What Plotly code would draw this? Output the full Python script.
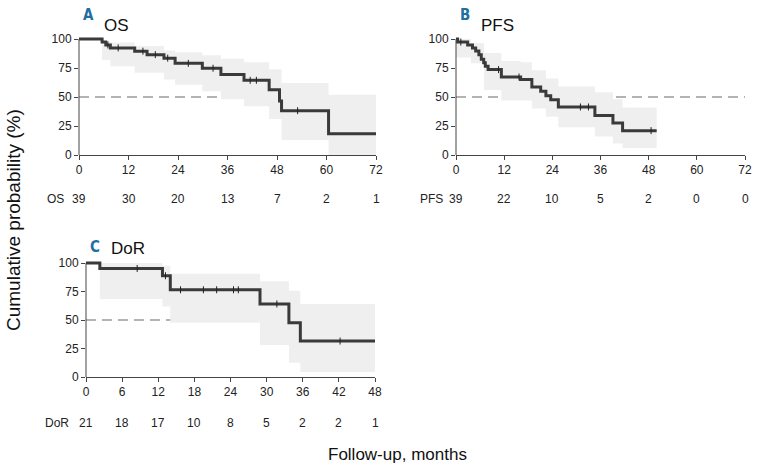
import plotly.graph_objects as go

# ---------------- data ----------------
# Panel A: OS
os_t = [0, 5.6, 6.5, 7.6, 13.5, 16.5, 20.6, 23.3, 29.9, 34.4, 40.0, 46.1, 48.6, 49.1, 60.5, 72]
os_s = [100, 97.4, 94.9, 92.3, 89.5, 86.5, 83.5, 79.0, 74.8, 69.3, 64.4, 56.3, 46.5, 38.2, 18.4, 18.4]
os_band_t = [0, 5.6, 7.6, 13.5, 20.6, 23.3, 29.9, 34.4, 40.0, 46.1, 49.1, 60.5, 72]
os_upper = [100, 98, 97, 94, 90, 88.5, 86, 83, 80, 74, 62, 52, 52]
os_lower = [100, 82, 76.5, 71, 65, 60.5, 55, 48, 42, 31, 13, 0, 0]
os_censor = [7.0, 9.5, 15.5, 18.5, 21.5, 26.5, 32.5, 41.5, 43.0, 53.0]

# Panel B: PFS
pfs_t = [0, 0.4, 2.9, 4.1, 4.9, 5.7, 6.3, 6.9, 7.3, 8.0, 11.3, 16.1, 18.9, 21.1, 22.4, 23.6, 25.5, 34.6, 39.1, 41.5, 50.0]
pfs_s = [100, 97.4, 94.9, 92.3, 89.7, 86.5, 82.5, 79.5, 76.5, 73.6, 67.2, 65.0, 58.6, 55.0, 51.0, 47.7, 41.4, 34.0, 27.6, 21.0, 21.0]
pfs_band_t = [0, 3.7, 7.0, 11.3, 16.1, 18.9, 22.4, 25.5, 34.6, 39.1, 41.5, 50.0]
pfs_upper = [100, 96.5, 88, 81, 80, 73, 66, 59, 54, 48, 41, 41]
pfs_lower = [84, 79, 56, 47, 47, 40, 33, 24, 16, 10, 6, 6]
pfs_censor = [1.2, 10.6, 15.7, 31.0, 33.0, 48.6]

# Panel C: DoR
dor_t = [0, 2.3, 12.7, 14.0, 28.9, 33.7, 35.6, 48.3]
dor_s = [100, 95.2, 88.8, 76.5, 64.1, 47.6, 31.5, 31.5]
dor_band_t = [0, 2.3, 12.7, 14.0, 28.9, 33.7, 35.6, 48.3]
dor_upper = [100, 100, 97.6, 90.6, 84, 75.6, 64, 64]
dor_lower = [100, 68.5, 61.8, 47.6, 28, 12.4, 4.4, 4.4]
dor_censor = [8.5, 13.2, 15.7, 19.5, 21.7, 24.5, 25.3, 31.7, 42.2]

# ticks and numbers at risk
ticks_ab = [0, 12, 24, 36, 48, 60, 72]
ticks_c = [0, 6, 12, 18, 24, 30, 36, 42, 48]
y_ticks = [0, 25, 50, 75, 100]
os_risk = [39, 30, 20, 13, 7, 2, 1]
pfs_risk = [39, 22, 10, 5, 2, 0, 0]
dor_risk = [21, 18, 17, 10, 8, 5, 2, 2, 1]

# ---------------- layout helpers ----------------
W, H = 763, 469
def fx(x):
    return x / W
def fy(y):
    return 1 - y / H

def step_at(ts, ss, t):
    v = ss[0]
    for ti, si in zip(ts, ss):
        if ti <= t:
            v = si
    return v

CURVE = "#3a3a3a"
BAND = "#efefef"
DASH = "#9a9a9a"
AXC = "#444444"
LETTER = "#1f6fa3"
YTOP = 103  # a little headroom so the curve at 100 % is not clipped

fig = go.Figure()

panels = [
    ("x", "y", os_t, os_s, os_band_t, os_upper, os_lower, os_censor, 72),
    ("x2", "y2", pfs_t, pfs_s, pfs_band_t, pfs_upper, pfs_lower, pfs_censor, 72),
    ("x3", "y3", dor_t, dor_s, dor_band_t, dor_upper, dor_lower, dor_censor, 48),
]

shapes = []
for xa, ya, t, s, bt, up, lo, cen, xmax in panels:
    fig.add_trace(go.Scatter(x=[0, xmax], y=[50, 50], mode="lines", xaxis=xa, yaxis=ya,
                             line=dict(color=DASH, width=1.5, dash="10px,6px"),
                             hoverinfo="skip", showlegend=False))
    fig.add_trace(go.Scatter(x=bt, y=lo, mode="lines", xaxis=xa, yaxis=ya,
                             line=dict(width=0, shape="hv", color=BAND),
                             hoverinfo="skip", showlegend=False))
    fig.add_trace(go.Scatter(x=bt, y=up, mode="lines", xaxis=xa, yaxis=ya, fill="tonexty",
                             fillcolor=BAND, line=dict(width=0, shape="hv", color=BAND),
                             hoverinfo="skip", showlegend=False))
    fig.add_trace(go.Scatter(x=t, y=s, mode="lines", xaxis=xa, yaxis=ya,
                             line=dict(color=CURVE, width=3, shape="hv"),
                             showlegend=False))
    fig.add_trace(go.Scatter(x=cen, y=[step_at(t, s, c) for c in cen], mode="markers",
                             xaxis=xa, yaxis=ya,
                             marker=dict(symbol="line-ns", size=5, line=dict(color="#222", width=1)),
                             showlegend=False, cliponaxis=False))
    shapes.append(dict(type="line", xref=xa + " domain", yref=ya, x0=0, x1=0, y0=0, y1=100,
                       line=dict(color=AXC, width=1), layer="above"))

axis_common = dict(ticks="outside", ticklen=4, automargin=False,
                   tickcolor=AXC, tickwidth=1, showgrid=False, zeroline=False,
                   tickfont=dict(family="Liberation Sans, Arial, sans-serif", size=12, color="#222"))

def ydom(y0px, y100px):
    top = y0px - (y0px - y100px) * YTOP / 100
    return [fy(y0px), fy(top)]

yA = ydom(155, 39)
yC = ydom(377, 263)

fig.update_layout(
    width=W, height=H, margin=dict(l=0, r=0, t=0, b=0, autoexpand=False),
    paper_bgcolor="white", plot_bgcolor="white", showlegend=False,
    xaxis=dict(domain=[fx(79), fx(376)], range=[0, 72], tickvals=ticks_ab, anchor="y",
               showline=True, linecolor=AXC, linewidth=1, **axis_common),
    yaxis=dict(domain=yA, range=[0, YTOP], tickvals=y_ticks, anchor="x", showline=False, **axis_common),
    xaxis2=dict(domain=[fx(456), fx(745)], range=[0, 72], tickvals=ticks_ab, anchor="y2",
                showline=True, linecolor=AXC, linewidth=1, **axis_common),
    yaxis2=dict(domain=yA, range=[0, YTOP], tickvals=y_ticks, anchor="x2", showline=False, **axis_common),
    xaxis3=dict(domain=[fx(86), fx(375)], range=[0, 48], tickvals=ticks_c, anchor="y3",
                showline=True, linecolor=AXC, linewidth=1, **axis_common),
    yaxis3=dict(domain=yC, range=[0, YTOP], tickvals=y_ticks, anchor="x3", showline=False, **axis_common),
    font=dict(family="Liberation Sans, Arial, sans-serif", color="#111"),
    shapes=shapes,
)

ann = []
FONT_N = dict(family="Liberation Sans, Arial, sans-serif", size=12, color="#222")

def risk_row(xref, ticks, vals, label, label_px, row_py):
    for tv, v in zip(ticks, vals):
        ann.append(dict(xref=xref, yref="paper", x=tv, y=fy(row_py), text=str(v), showarrow=False,
                        xanchor="center", yanchor="middle", font=FONT_N))
    ann.append(dict(xref="paper", yref="paper", x=fx(label_px), y=fy(row_py), text=label, showarrow=False,
                    xanchor="right", yanchor="middle", font=FONT_N))

risk_row("x", ticks_ab, os_risk, "OS", 66, 199)
risk_row("x2", ticks_ab, pfs_risk, "PFS", 445, 199)
risk_row("x3", ticks_c, dor_risk, "DoR", 71, 423)

def title(letter, lx, ly, name, nx, ny):
    ann.append(dict(xref="paper", yref="paper", x=fx(lx), y=fy(ly), text="<b>" + letter + "</b>",
                    showarrow=False, xanchor="center", yanchor="middle",
                    font=dict(family="DejaVu Sans Condensed, Liberation Sans Narrow, sans-serif", size=15, color=LETTER)))
    ann.append(dict(xref="paper", yref="paper", x=fx(nx), y=fy(ny), text=name, showarrow=False,
                    xanchor="left", yanchor="middle",
                    font=dict(family="Liberation Sans, Arial, sans-serif", size=17, color="#111")))

title("A", 88, 15, "OS", 102, 25)
title("B", 465, 15, "PFS", 479, 25)
title("C", 95, 247, "DoR", 109, 248)

ann.append(dict(xref="paper", yref="paper", x=fx(13), y=fy(220), text="Cumulative probability (%)",
                showarrow=False, textangle=-90, xanchor="center", yanchor="middle",
                font=dict(family="Liberation Sans, Arial, sans-serif", size=19, color="#111")))
ann.append(dict(xref="paper", yref="paper", x=fx(397), y=fy(454), text="Follow-up, months",
                showarrow=False, xanchor="center", yanchor="middle",
                font=dict(family="Liberation Sans, Arial, sans-serif", size=17, color="#111")))

fig.update_layout(annotations=ann)

fig.write_html("out.html", config={"displayModeBar": False},
               post_script="document.body.style.margin='0';document.body.style.padding='0';")
